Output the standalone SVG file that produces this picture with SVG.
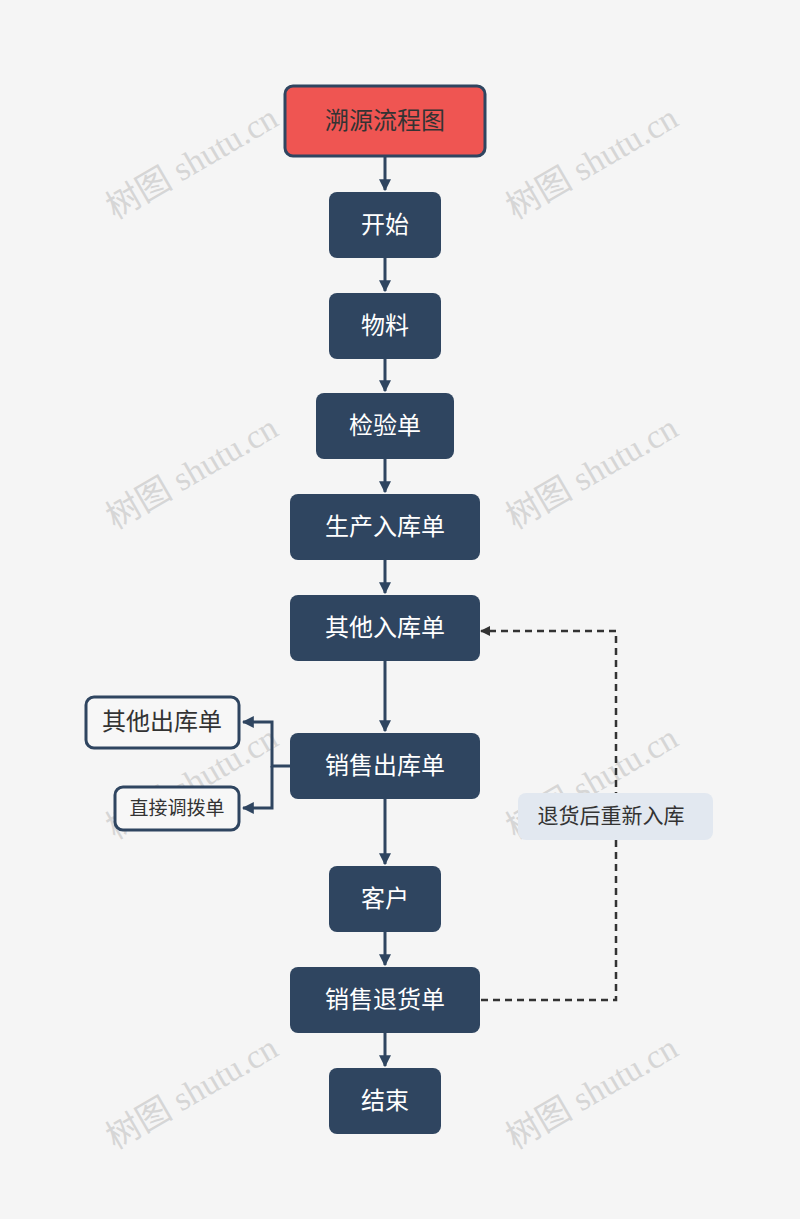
<svg xmlns="http://www.w3.org/2000/svg" width="800" height="1219" viewBox="0 0 800 1219">
<style>
.n{fill:#2F4560;}
.t{font-family:"Noto Sans CJK SC","Noto Sans",sans-serif;font-size:24px;fill:#fff;text-anchor:middle;dominant-baseline:central;}
.c{stroke:#2F4560;stroke-width:3;fill:none;}
.w{font-family:"Liberation Serif","Noto Sans CJK SC",serif;font-size:34px;fill:#d6d6d6;}
</style>
<defs>
<marker id="a" viewBox="0 0 10 10" refX="9" refY="5" markerWidth="4" markerHeight="4" orient="auto"><path d="M0,0L10,5L0,10z" fill="#2F4560"/></marker>
<marker id="d" viewBox="0 0 10 10" refX="9" refY="5" markerWidth="4" markerHeight="4" orient="auto"><path d="M0,0L10,5L0,10z" fill="#333"/></marker>
</defs>
<rect width="800" height="1219" fill="#F5F5F5"/>
<g id="watermarks">
<text class="w" transform="translate(115,220) rotate(-30)">树图 shutu.cn</text>
<text class="w" transform="translate(515,220) rotate(-30)">树图 shutu.cn</text>
<text class="w" transform="translate(115,530) rotate(-30)">树图 shutu.cn</text>
<text class="w" transform="translate(515,530) rotate(-30)">树图 shutu.cn</text>
<text class="w" transform="translate(115,840) rotate(-30)">树图 shutu.cn</text>
<text class="w" transform="translate(515,840) rotate(-30)">树图 shutu.cn</text>
<text class="w" transform="translate(115,1150) rotate(-30)">树图 shutu.cn</text>
<text class="w" transform="translate(515,1150) rotate(-30)">树图 shutu.cn</text>
</g>
<g id="connectors">
<path class="c" marker-end="url(#a)" d="M385,157V190"/>
<path class="c" marker-end="url(#a)" d="M385,258V291"/>
<path class="c" marker-end="url(#a)" d="M385,359V391"/>
<path class="c" marker-end="url(#a)" d="M385,459V492"/>
<path class="c" marker-end="url(#a)" d="M385,560V593"/>
<path class="c" marker-end="url(#a)" d="M385,661V731"/>
<path class="c" marker-end="url(#a)" d="M385,799V864"/>
<path class="c" marker-end="url(#a)" d="M385,932V965"/>
<path class="c" marker-end="url(#a)" d="M385,1033V1066"/>
<path class="c" marker-end="url(#a)" d="M290,766H272V722H243"/>
<path class="c" marker-end="url(#a)" d="M272,766V808H243"/>
<path d="M481,1000H616V631H481" fill="none" stroke="#333" stroke-width="2.5" stroke-dasharray="7,5" marker-end="url(#d)"/>
</g>
<g id="label"><rect x="518" y="793" width="195" height="47" rx="8" fill="#E2E8F0"/><text class="t" x="611" y="814" style="fill:#333;font-size:21px">退货后重新入库</text></g>
<g id="title"><rect x="285" y="86" width="200" height="70" rx="8" fill="#EF5552" stroke="#2F4560" stroke-width="3"/><text class="t" x="385" y="118" style="fill:#333">溯源流程图</text></g>
<g id="start"><rect class="n" x="329" y="192" width="112" height="66" rx="8"/><text class="t" x="385" y="222">开始</text></g>
<g id="material"><rect class="n" x="329" y="293" width="112" height="66" rx="8"/><text class="t" x="385" y="323">物料</text></g>
<g id="inspect"><rect class="n" x="316" y="393" width="138" height="66" rx="8"/><text class="t" x="385" y="423">检验单</text></g>
<g id="prodin"><rect class="n" x="290" y="494" width="190" height="66" rx="8"/><text class="t" x="385" y="524">生产入库单</text></g>
<g id="otherin"><rect class="n" x="290" y="595" width="190" height="66" rx="8"/><text class="t" x="385" y="625">其他入库单</text></g>
<g id="salesout"><rect class="n" x="290" y="733" width="190" height="66" rx="8"/><text class="t" x="385" y="763">销售出库单</text></g>
<g id="otherout"><rect x="86" y="697" width="153" height="51" rx="8" fill="#F7F7F7" stroke="#2F4560" stroke-width="3"/><text class="t" x="162" y="719" style="fill:#333">其他出库单</text></g>
<g id="transfer"><rect x="115" y="787" width="124" height="43" rx="8" fill="#F7F7F7" stroke="#2F4560" stroke-width="3"/><text class="t" x="177" y="806" style="fill:#333;font-size:19px">直接调拨单</text></g>
<g id="customer"><rect class="n" x="329" y="866" width="112" height="66" rx="8"/><text class="t" x="385" y="896">客户</text></g>
<g id="salesreturn"><rect class="n" x="290" y="967" width="190" height="66" rx="8"/><text class="t" x="385" y="997">销售退货单</text></g>
<g id="end"><rect class="n" x="329" y="1068" width="112" height="66" rx="8"/><text class="t" x="385" y="1098">结束</text></g>
</svg>
